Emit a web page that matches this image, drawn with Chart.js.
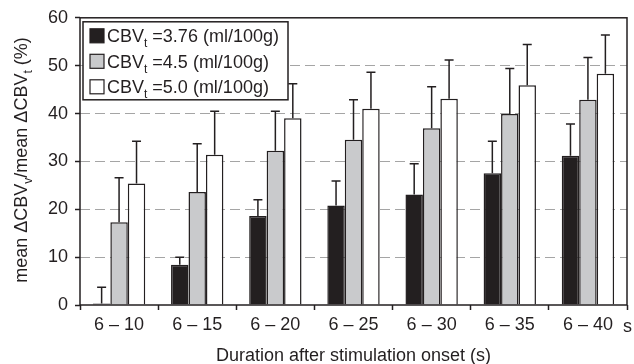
<!DOCTYPE html>
<html>
<head>
<meta charset="utf-8">
<script src="https://cdn.jsdelivr.net/npm/chart.js@4"></script>
<style>
  html, body { margin: 0; padding: 0; background: #fff; }
  #wrap { width: 634px; height: 364px; }
</style>
</head>
<body>
<div id="wrap"><canvas id="chart" width="634" height="364"></canvas></div>
<script>
// --- Data ---
const categories = ['6 – 10', '6 – 15', '6 – 20', '6 – 25', '6 – 30', '6 – 35', '6 – 40'];
const cbvLabels = ['3.76', '4.5', '5.0'];

const valuesLow = [0.3, 8.4, 18.6, 20.8, 23.1, 27.5, 31.2];
const valuesMid = [17.3, 23.6, 32.2, 34.5, 36.9, 39.9, 42.9];
const valuesHigh = [25.4, 31.4, 39.0, 41.0, 43.1, 45.9, 48.3];

// upper error (SD) above each bar
const errLow = [3.4, 1.6, 3.4, 5.1, 6.4, 6.7, 6.6];
const errMid = [9.3, 10.1, 8.3, 8.4, 8.7, 9.5, 8.8];
const errHigh = [8.8, 9.1, 7.2, 7.6, 8.1, 8.5, 8.1];

const yTicks = [0, 10, 20, 30, 40, 50, 60];

const INK = '#231f20';
const FONT = "'Liberation Sans', Arial, Helvetica, sans-serif";

// --- Plugins ---
// error bars, only the upper half
const errorBars = {
    id: 'errorBars',
    afterDatasetsDraw(chart) {
        const ctx = chart.ctx;
        const yScale = chart.scales.y;
        ctx.save();
        ctx.strokeStyle = INK;
        ctx.lineWidth = 1.5;
        chart.data.datasets.forEach((ds, i) => {
            const meta = chart.getDatasetMeta(i);
            meta.data.forEach((bar, j) => {
                const top = yScale.getPixelForValue(ds.data[j] + ds.errors[j]);
                ctx.beginPath();
                ctx.moveTo(bar.x, bar.y);
                ctx.lineTo(bar.x, top);
                ctx.moveTo(bar.x - 4.5, top);
                ctx.lineTo(bar.x + 4.5, top);
                ctx.stroke();
            });
        });
        ctx.restore();
    }
};

// draws text pieces, some of them as subscripts
function drawPieces(ctx, pieces, x, y) {
    let cx = x;
    pieces.forEach(p => {
        ctx.font = (p.sub ? '12px ' : '18px ') + FONT;
        ctx.fillText(p.text, cx, y + (p.sub ? 5 : 0));
        cx += ctx.measureText(p.text).width;
    });
    return cx - x;
}
function piecesWidth(ctx, pieces) {
    let w = 0;
    pieces.forEach(p => {
        ctx.font = (p.sub ? '12px ' : '18px ') + FONT;
        w += ctx.measureText(p.text).width;
    });
    return w;
}

const decorations = {
    id: 'decorations',
    afterDraw(chart) {
        const ctx = chart.ctx;
        const area = chart.chartArea;
        ctx.save();

        // frame
        ctx.strokeStyle = INK;
        ctx.lineWidth = 1.5;
        ctx.strokeRect(area.left, area.top, area.right - area.left, area.bottom - area.top);

        // legend box
        const lx = area.left + 3, ly = area.top + 4;
        ctx.fillStyle = '#fff';
        ctx.fillRect(lx, ly, 205, 78);
        ctx.strokeRect(lx, ly, 205, 78);
        chart.data.datasets.forEach((ds, i) => {
            const rowY = ly + 14 + i * 25.5;
            ctx.fillStyle = ds.backgroundColor;
            ctx.fillRect(lx + 7, rowY - 7, 14, 14);
            ctx.lineWidth = 1.2;
            ctx.strokeRect(lx + 7, rowY - 7, 14, 14);
            ctx.fillStyle = INK;
            ctx.textBaseline = 'alphabetic';
            ctx.textAlign = 'left';
            drawPieces(ctx, [
                { text: 'CBV' },
                { text: 't', sub: true },
                { text: ' =' + cbvLabels[i] + ' (ml/100g)' }
            ], lx + 24, rowY + 6.5);
        });

        // y axis title
        const yPieces = [
            { text: 'mean ΔCBV' }, { text: 'v', sub: true },
            { text: '/mean ΔCBV' }, { text: 't', sub: true },
            { text: ' (%)' }
        ];
        const w = piecesWidth(ctx, yPieces);
        ctx.save();
        ctx.translate(27, 160);
        ctx.rotate(-Math.PI / 2);
        ctx.fillStyle = INK;
        ctx.textAlign = 'left';
        ctx.textBaseline = 'alphabetic';
        drawPieces(ctx, yPieces, -w / 2, 0);
        ctx.restore();

        // x axis title
        ctx.fillStyle = INK;
        ctx.font = '18px ' + FONT;
        ctx.textAlign = 'center';
        ctx.textBaseline = 'alphabetic';
        ctx.fillText('Duration after stimulation onset (s)', (area.left + area.right) / 2, 361);

        // unit after the last tick label
        ctx.textAlign = 'left';
        ctx.fillText('s', area.right - 4, 332);

        ctx.restore();
    }
};

// --- Chart ---
const ctx = document.getElementById('chart').getContext('2d');

const chart = new Chart(ctx, {
    type: 'bar',
    data: {
        labels: categories,
        datasets: [
            { label: 'CBVt =3.76 (ml/100g)', data: valuesLow, errors: errLow, backgroundColor: INK },
            { label: 'CBVt =4.5 (ml/100g)', data: valuesMid, errors: errMid, backgroundColor: '#c9cacc' },
            { label: 'CBVt =5.0 (ml/100g)', data: valuesHigh, errors: errHigh, backgroundColor: '#ffffff' }
        ].map(d => Object.assign(d, {
            borderColor: INK,
            borderWidth: 1.5,
            barPercentage: 1,
            categoryPercentage: 0.67
        }))
    },
    options: {
        responsive: false,
        animation: false,
        layout: { padding: { top: 17, right: 7, left: 0, bottom: 0 } },
        plugins: {
            legend: { display: false },
            tooltip: { enabled: false }
        },
        scales: {
            x: {
                afterFit: (scale) => { scale.height = 59; },
                grid: {
                    offset: true,
                    drawOnChartArea: false,
                    tickLength: 5,
                    tickColor: INK,
                    tickWidth: 1.5
                },
                border: { display: false },
                ticks: {
                    color: INK,
                    font: { family: FONT, size: 18 },
                    padding: 4,
                    maxRotation: 0
                }
            },
            y: {
                min: 0,
                max: 60,
                afterFit: (scale) => { scale.width = 80; },
                afterBuildTicks: (scale) => { scale.ticks = yTicks.map(v => ({ value: v })); },
                grid: {
                    color: (c) => (c.tick && (c.tick.value === 0 || c.tick.value === 60)) ? 'rgba(0,0,0,0)' : '#a5a5a5',
                    lineWidth: 1,
                    tickLength: 5,
                    tickColor: INK,
                    tickWidth: 1.5
                },
                border: { display: false, dash: [10, 5] },
                ticks: {
                    color: INK,
                    font: { family: FONT, size: 18 },
                    padding: 7
                }
            }
        }
    },
    plugins: [errorBars, decorations]
});
</script>
</body>
</html>
